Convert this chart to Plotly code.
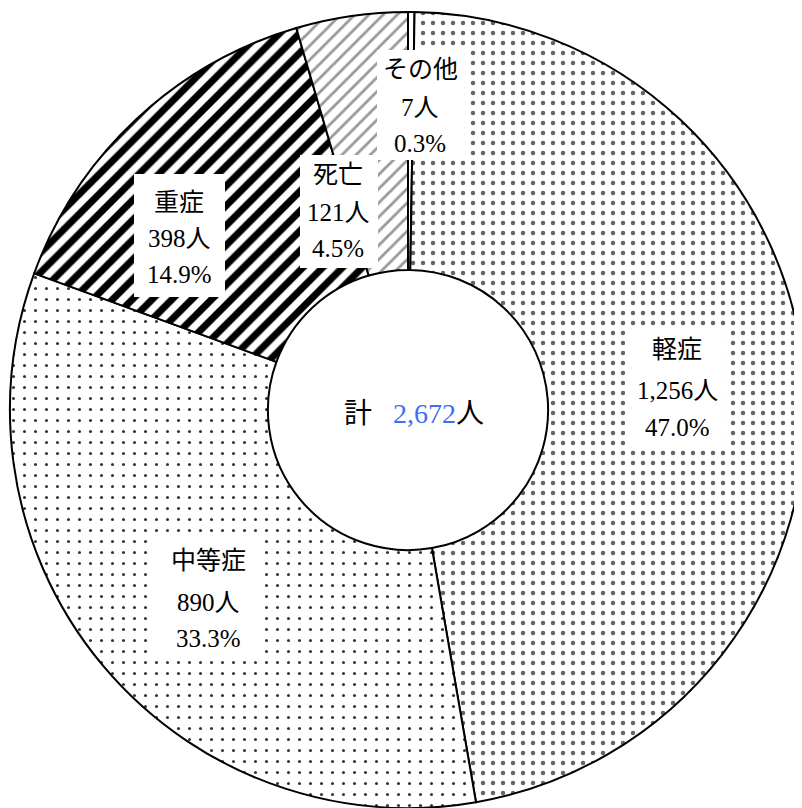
import plotly.graph_objects as go

categories = ["その他", "軽症", "中等症", "重症", "死亡"]
values = [7, 1256, 890, 398, 121]
percents = ["0.3%", "47.0%", "33.3%", "14.9%", "4.5%"]
count_labels = ["7人", "1,256人", "890人", "398人", "121人"]
total_label = "2,672"

W, H = 802, 808
OFF = 8  # page body margin in the browser
FONT = "Liberation Serif, Noto Sans CJK JP"


def px(x):
    return (x - OFF) / W


def py(y):
    return 1 - (y - OFF) / H


fig = go.Figure(go.Pie(
    labels=categories, values=values, sort=False, direction="clockwise",
    rotation=0, hole=0.352, textinfo="none", hoverinfo="label+value+percent",
    domain=dict(x=[2 / W, 798 / W], y=[8 / H, 804 / H]),
    marker=dict(
        colors=["white"] * 5,
        line=dict(color="black", width=2),
        pattern=dict(
            shape=["", ".", ".", "/", "/"],
            fgcolor=["black", "#666666", "#333333", "black", "#999999"],
            bgcolor=["white"] * 5,
            size=[8, 10, 11, 14, 10],
            solidity=[0.3, 0.16, 0.06, 0.5, 0.28],
        ),
    ),
))

# label placement (page pixel centres) and white boxes
label_pos = {
    "その他": (420, [70, 107, 143], (377, 50, 465, 160)),
    "軽症": (677, [350, 390, 427], (625, 330, 725, 446)),
    "中等症": (208, [560, 602, 638], (152, 540, 265, 656)),
    "重症": (179, [202, 238, 275], (134, 174, 225, 297)),
    "死亡": (338, [175, 212, 248], (300, 155, 378, 268)),
}

shapes = []
annotations = []
for cat, cnt, pct in zip(categories, count_labels, percents):
    cx, ys, box = label_pos[cat]
    x0, y0, x1, y1 = box
    shapes.append(dict(type="rect", xref="paper", yref="paper", layer="above",
                       x0=px(x0), x1=px(x1), y0=py(y1), y1=py(y0),
                       fillcolor="white", line=dict(width=0)))
    for txt, yy in zip([cat, cnt, pct], ys):
        annotations.append(dict(x=px(cx), y=py(yy), xref="paper", yref="paper",
                                xanchor="center", yanchor="middle",
                                text=txt, showarrow=False,
                                font=dict(family=FONT, size=25, color="black")))

annotations.append(dict(
    x=px(414), y=py(413), xref="paper", yref="paper", showarrow=False,
    xanchor="center", yanchor="middle",
    text="計&nbsp;&nbsp;&nbsp;<span style='color:#3d6ff2'>" + total_label + "</span>人",
    font=dict(family=FONT, size=28, color="black")))

fig.update_layout(
    width=W, height=H, margin=dict(l=0, r=0, t=0, b=0),
    paper_bgcolor="white", plot_bgcolor="white", showlegend=False,
    shapes=shapes, annotations=annotations,
)

fig.write_html("out.html")
